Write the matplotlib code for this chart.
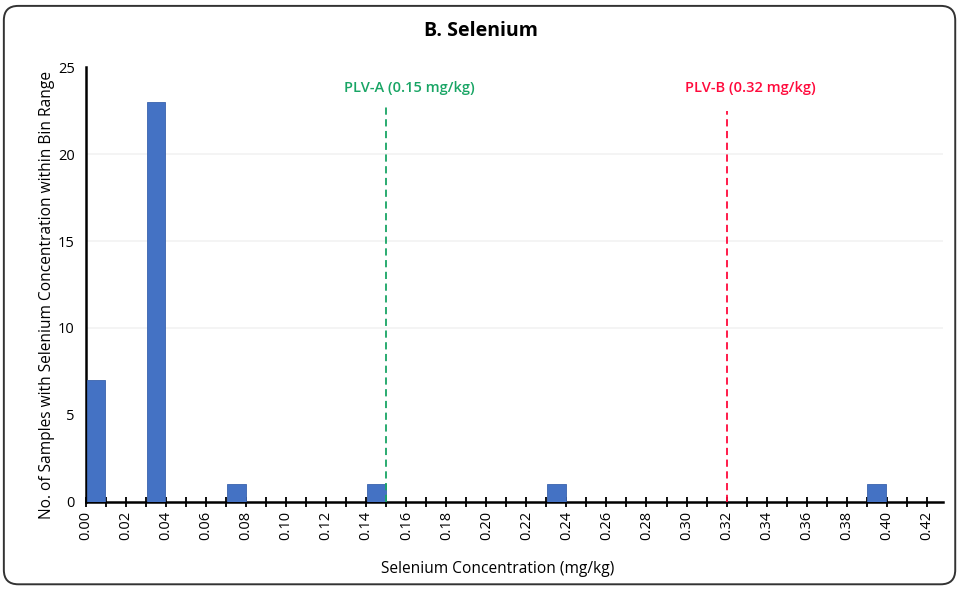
import matplotlib.pyplot as plt
from matplotlib.patches import FancyBboxPatch
from matplotlib.ticker import MultipleLocator

plt.rcParams['font.family'] = ['Open Sans', 'DejaVu Sans']

# Histogram bins (lower edge, mg/kg) and sample counts
bin_lower = [0.00, 0.03, 0.07, 0.14, 0.23, 0.39]
counts = [7, 23, 1, 1, 1, 1]
bin_width = 0.01

# Permissible limit values
plv_a = 0.15
plv_b = 0.32

fig = plt.figure(figsize=(9.61, 5.89), dpi=100)
ax = fig.add_axes([0.0895, 0.148, 0.8915, 0.738])

centers = [b + bin_width / 2 for b in bin_lower]
ax.bar(centers, counts, width=bin_width * 0.94, color="#4472C4",
       edgecolor="#3a62ad", linewidth=0.6, zorder=3)

# faint horizontal gridlines
for yv in [10, 15, 20]:
    ax.axhline(yv, color="#f2f2f2", linewidth=1.2, zorder=0)

ax.axvline(plv_a, ymin=0, ymax=0.915, color="#19a565", linestyle=(0, (4, 2.5)), linewidth=1.3, zorder=4)
ax.axvline(plv_b, ymin=0, ymax=0.9, color="#ff0a3c", linestyle=(0, (4, 2.5)), linewidth=1.3, zorder=4)
ax.text(plv_a + 0.0115, 23.8, "PLV-A (0.15 mg/kg)", color="#19a565", fontsize=10.5,
        fontweight="semibold", ha="center", va="center")
ax.text(plv_b + 0.012, 23.8, "PLV-B (0.32 mg/kg)", color="#ff0a3c", fontsize=10.5,
        fontweight="semibold", ha="center", va="center")

ax.set_xlim(0, 0.428)
ax.set_ylim(0, 25)
ax.xaxis.set_minor_locator(MultipleLocator(0.01))
ax.yaxis.set_major_locator(MultipleLocator(5))
ax.set_xticks([i * 0.02 for i in range(22)])
ax.set_xticklabels([f"{i * 0.02:.2f}" for i in range(22)], rotation=90, fontsize=10.5)
ax.tick_params(axis="x", which="both", direction="inout", length=7, width=1.3, pad=3)
ax.tick_params(axis="y", length=0, labelsize=10.5, pad=8)

for side in ["top", "right"]:
    ax.spines[side].set_visible(False)
for side in ["left", "bottom"]:
    ax.spines[side].set_linewidth(1.8)

ax.set_xlabel("Selenium Concentration (mg/kg)", fontsize=11.2)
ax.set_ylabel("No. of Samples with Selenium Concentration within Bin Range", fontsize=11.2)
ax.xaxis.set_label_coords(0.48, -0.137)
ax.yaxis.set_label_coords(-0.036, 0.476)

fig.text(0.5, 0.948, "B. Selenium", ha="center", va="center", fontsize=14, fontweight="bold")

# rounded frame around the chart
frame = FancyBboxPatch((0.004, 0.008), 0.99, 0.982, boxstyle="round,pad=0,rounding_size=0.015",
                       transform=fig.transFigure, facecolor="none", edgecolor="#333333",
                       linewidth=1.4, mutation_aspect=961 / 589)
fig.patches.append(frame)

fig.savefig("out.png", dpi=100)
